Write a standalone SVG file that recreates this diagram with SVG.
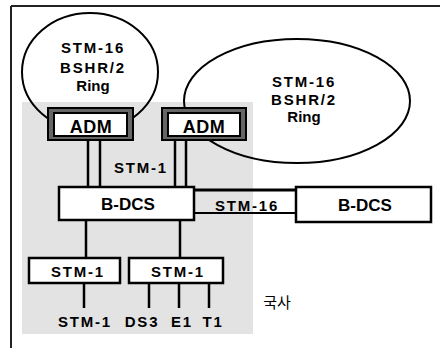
<svg xmlns="http://www.w3.org/2000/svg" width="440" height="348" viewBox="0 0 440 348">
<style>
.t{font-family:"Liberation Sans",Arial,sans-serif;font-weight:bold;fill:#000;text-anchor:middle}
.s{font-size:15px;letter-spacing:1.8px}
.b{font-size:17px}
.box{fill:#fff;stroke:#000;stroke-width:2.5}
.ln{stroke:#000;stroke-width:2.5;fill:none}
.ring{fill:none;stroke:#000;stroke-width:2}
</style>
<rect x="0" y="0" width="440" height="348" fill="#fff"/>
<g id="frame">
<line x1="11" y1="6" x2="440" y2="6" stroke="#222" stroke-width="2"/>
<line x1="11" y1="6" x2="11" y2="348" stroke="#222" stroke-width="2"/>
</g>
<g id="office">
<rect x="22" y="102" width="231" height="232" fill="#e3e3e3"/>
<text x="277" y="308" font-family="'Noto Sans CJK KR',sans-serif" font-size="15" text-anchor="middle">국사</text>
</g>
<g id="ring1">
<ellipse cx="90" cy="72" rx="68" ry="59" class="ring"/>
<text class="t s" x="93" y="53">STM-16</text>
<text class="t s" x="93" y="73">BSHR/2</text>
<text class="t" font-size="15" x="93" y="91">Ring</text>
</g>
<g id="ring2">
<ellipse cx="297" cy="101" rx="113" ry="62" class="ring"/>
<text class="t s" x="304" y="87">STM-16</text>
<text class="t s" x="304" y="105">BSHR/2</text>
<text class="t" font-size="15" x="304" y="122">Ring</text>
</g>
<g id="connectors">
<line class="ln" x1="88" y1="140" x2="88" y2="187"/>
<line class="ln" x1="100" y1="140" x2="100" y2="187"/>
<line class="ln" x1="175" y1="140" x2="175" y2="187"/>
<line class="ln" x1="186" y1="140" x2="186" y2="187"/>
<text class="t s" x="141" y="173">STM-1</text>
<line x1="194" y1="190" x2="296" y2="190" stroke="#000" stroke-width="3"/>
<line x1="194" y1="213" x2="296" y2="213" stroke="#000" stroke-width="2"/>
<text class="t s" x="247" y="211">STM-16</text>
<line class="ln" x1="86" y1="220" x2="86" y2="258"/>
<line class="ln" x1="180" y1="220" x2="180" y2="258"/>
<line class="ln" x1="84" y1="283" x2="84" y2="308"/>
<line class="ln" x1="149" y1="283" x2="149" y2="308"/>
<line class="ln" x1="179" y1="283" x2="179" y2="308"/>
<line class="ln" x1="209" y1="283" x2="209" y2="308"/>
<text class="t s" x="85" y="327">STM-1</text>
<text class="t s" x="142" y="327">DS3</text>
<text class="t s" x="182" y="327">E1</text>
<text class="t s" x="213" y="327">T1</text>
</g>
<g id="adm1">
<rect x="48" y="108" width="85" height="32" fill="#666" stroke="#000" stroke-width="2"/>
<rect x="54" y="113" width="73" height="23" fill="#fff" stroke="#000" stroke-width="2"/>
<text class="t" font-size="18" x="91" y="133" letter-spacing="0.5">ADM</text>
</g>
<g id="adm2">
<rect x="162" y="108" width="84" height="32" fill="#666" stroke="#000" stroke-width="2"/>
<rect x="168" y="113" width="72" height="23" fill="#fff" stroke="#000" stroke-width="2"/>
<text class="t" font-size="18" x="204" y="133" letter-spacing="0.5">ADM</text>
</g>
<g id="bdcs1">
<rect class="box" x="59" y="187" width="135" height="33"/>
<text class="t b" x="128" y="210">B-DCS</text>
</g>
<g id="bdcs2">
<rect class="box" x="296" y="187" width="135" height="35"/>
<text class="t b" x="365" y="211">B-DCS</text>
</g>
<g id="stm1a">
<rect class="box" x="29" y="258" width="91" height="25"/>
<text class="t s" x="78" y="277">STM-1</text>
</g>
<g id="stm1b">
<rect class="box" x="129" y="258" width="94" height="25"/>
<text class="t s" x="178" y="277">STM-1</text>
</g>
</svg>
